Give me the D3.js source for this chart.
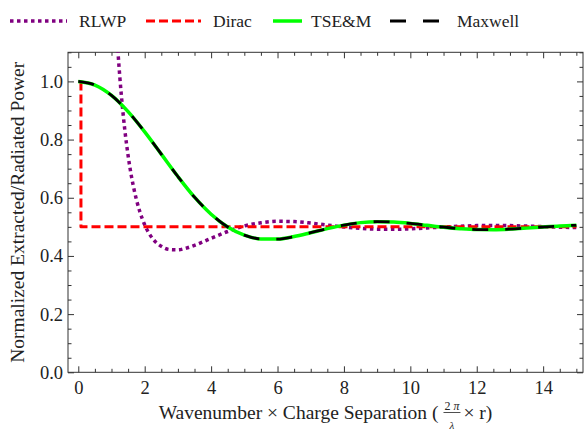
<!DOCTYPE html>
<html>
<head>
<meta charset="utf-8">
<script src="https://cdn.jsdelivr.net/npm/d3@7"></script>
<style>
  body { margin: 0; background: #fff; }
  svg, svg text { font-family: 'Liberation Serif', 'Times New Roman', serif; }
  svg { display: block; }
  .tick line { stroke: #333; }
  .tick text { fill: #222; }
</style>
</head>
<body>
<div id="chart"></div>
<script>
// values
const maxwellX = [0, 0.5, 1, 1.5, 2, 2.5, 3, 3.5, 4, 4.5, 5, 5.5, 6, 6.5, 7, 7.5, 8, 8.5, 9, 9.5, 10, 10.5, 11, 11.5, 12, 12.5, 13, 13.5, 14, 14.5, 15]
const maxwellY = [1.0, 0.9875, 0.952, 0.896, 0.8265, 0.750, 0.673, 0.602, 0.5435, 0.4995, 0.4715, 0.4585, 0.458, 0.4665, 0.4798, 0.494, 0.506, 0.5145, 0.5177, 0.5164, 0.5118, 0.5053, 0.4988, 0.4937, 0.4907, 0.4904, 0.4922, 0.4956, 0.4995, 0.503, 0.5054]
const tsemX = [0, 0.5, 1, 1.5, 2, 2.5, 3, 3.5, 4, 4.5, 5, 5.5, 6, 6.5, 7, 7.5, 8, 8.5, 9, 9.5, 10, 10.5, 11, 11.5, 12, 12.5, 13, 13.5, 14, 14.5, 15]
const tsemY = [1.0, 0.9875, 0.952, 0.896, 0.8265, 0.750, 0.673, 0.602, 0.5435, 0.4995, 0.4715, 0.4585, 0.458, 0.4665, 0.4798, 0.494, 0.506, 0.5145, 0.5177, 0.5164, 0.5118, 0.5053, 0.4988, 0.4937, 0.4907, 0.4904, 0.4922, 0.4956, 0.4995, 0.503, 0.5054]
const rlwpX = [1.15, 1.2, 1.25, 1.3, 1.35, 1.4, 1.45, 1.5, 1.6, 1.7, 1.75, 1.85, 2, 2.25, 2.5, 2.75, 3, 3.25, 3.5, 3.75, 4, 4.5, 5, 5.5, 6, 6.5, 7, 7.5, 8, 8.5, 9, 9.5, 10, 10.5, 11, 11.5, 12, 12.5, 13, 13.5, 14, 14.5, 15]
const rlwpY = [1.182, 1.093, 1.016, 0.948, 0.888, 0.834, 0.787, 0.745, 0.674, 0.618, 0.594, 0.5535, 0.507, 0.458, 0.433, 0.422, 0.421, 0.427, 0.4365, 0.448, 0.4605, 0.484, 0.503, 0.514, 0.519, 0.518, 0.513, 0.506, 0.4997, 0.4947, 0.492, 0.4916, 0.4933, 0.4962, 0.4995, 0.5023, 0.5042, 0.5048, 0.5042, 0.5027, 0.5008, 0.499, 0.4976]
const diracX = [0.08, 0.08, 15]
const diracY = [1.0, 0.5, 0.5]

const seriesNames = ['RLWP', 'Dirac', 'TSE&M', 'Maxwell']
const seriesColors = ['#800080', '#ff0000', '#00ff00', '#000000']
const seriesDash = ['3.5,3.5', '9,4', null, '16,17']
const seriesWidth = [3.5, 3, 3.5, 2.8]

const xMajor = [0, 2, 4, 6, 8, 10, 12, 14]
const yMajor = [0, 0.2, 0.4, 0.6, 0.8, 1.0]

const xLabel = 'Wavenumber × Charge Separation ('
const xLabelEnd = ' × r)'
const yLabel = 'Normalized Extracted/Radiated Power'

const width = 584
const height = 431
const margin = { top: 52.3, right: 1, bottom: 58.7, left: 68 }
const FONT = 18.5
const SERIF = "'Liberation Serif', 'Times New Roman', serif"

const scaleX = d3.scaleLinear().domain([-0.31, 15.2]).range([margin.left, width - margin.right])
const scaleY = d3.scaleLinear().domain([0, 1.1]).range([height - margin.bottom, margin.top])

const svg = d3.select('#chart').append('svg')
	.attr('width', width)
	.attr('height', height)
	.attr('font-family', SERIF)

svg.append('defs').append('clipPath')
	.attr('id', 'plot-clip')
	.append('rect')
	.attr('x', margin.left)
	.attr('y', margin.top)
	.attr('width', scaleX.range()[1] - margin.left)
	.attr('height', scaleY.range()[0] - margin.top)

// ticks, all pointing inward
const xMinor = d3.range(0, 15.01, 0.5).filter(d => !xMajor.includes(d))
const yMinor = d3.range(0, 1.101, 0.05).map(d => +d.toFixed(2)).filter(d => !yMajor.some(m => Math.abs(m - d) < 1e-6))

function axisGroup(axis, tr) {
	const g = svg.append('g').attr('transform', tr).call(axis)
	g.attr('font-family', SERIF).attr('font-size', FONT)
	g.select('.domain').remove()
	return g
}

const bottomY = scaleY(0)
const topY = scaleY(1.1)
const leftX = scaleX.range()[0]
const rightX = scaleX.range()[1]

axisGroup(d3.axisBottom(scaleX).tickValues(xMajor).tickSize(-6).tickPadding(9).tickFormat(d3.format('d')), `translate(0,${bottomY})`)
axisGroup(d3.axisBottom(scaleX).tickValues(xMinor).tickSize(-3.5).tickFormat(''), `translate(0,${bottomY})`)
axisGroup(d3.axisTop(scaleX).tickValues(xMajor).tickSize(-6).tickFormat(''), `translate(0,${topY})`)
axisGroup(d3.axisTop(scaleX).tickValues(xMinor).tickSize(-3.5).tickFormat(''), `translate(0,${topY})`)

axisGroup(d3.axisLeft(scaleY).tickValues(yMajor).tickSize(-6).tickPadding(5).tickFormat(d3.format('.1f')), `translate(${leftX},0)`)
axisGroup(d3.axisLeft(scaleY).tickValues(yMinor).tickSize(-3.5).tickFormat(''), `translate(${leftX},0)`)
axisGroup(d3.axisRight(scaleY).tickValues(yMajor).tickSize(-6).tickFormat(''), `translate(${rightX},0)`)
axisGroup(d3.axisRight(scaleY).tickValues(yMinor).tickSize(-3.5).tickFormat(''), `translate(${rightX},0)`)

svg.append('rect')
	.attr('x', leftX)
	.attr('y', topY)
	.attr('width', rightX - leftX)
	.attr('height', bottomY - topY)
	.attr('fill', 'none')
	.attr('stroke', '#333')
	.attr('stroke-width', 1)

// curves
const line = d3.line()
	.x(d => scaleX(d[0]))
	.y(d => scaleY(d[1]))
	.curve(d3.curveMonotoneX)

const straight = d3.line()
	.x(d => scaleX(d[0]))
	.y(d => scaleY(d[1]))

const series = [
	d3.zip(rlwpX, rlwpY),
	d3.zip(diracX, diracY),
	d3.zip(tsemX, tsemY),
	d3.zip(maxwellX, maxwellY)
]

const plot = svg.append('g').attr('clip-path', 'url(#plot-clip)')

series.forEach((pts, i) => {
	plot.append('path')
		.datum(pts)
		.attr('d', i === 1 ? straight(pts) : line(pts))
		.attr('fill', 'none')
		.attr('stroke', seriesColors[i])
		.attr('stroke-width', seriesWidth[i])
		.attr('stroke-dasharray', seriesDash[i])
		.attr('stroke-linejoin', 'round')
})

// legend
const legendLines = [[10, 67], [146, 201], [273, 302], [390, 440]]
const legendText = [79, 213, 311, 457]
const legendY = 21

const legend = svg.append('g').attr('class', 'legend')
seriesNames.forEach((name, i) => {
	legend.append('line')
		.attr('x1', legendLines[i][0])
		.attr('x2', legendLines[i][1])
		.attr('y1', legendY)
		.attr('y2', legendY)
		.attr('stroke', seriesColors[i])
		.attr('stroke-width', seriesWidth[i])
		.attr('stroke-dasharray', seriesDash[i])
	legend.append('text')
		.attr('x', legendText[i])
		.attr('y', legendY + 6.3)
		.attr('font-family', SERIF)
		.attr('font-size', 17.5)
		.attr('fill', '#222')
		.text(name)
})

// y title
svg.append('text')
	.attr('transform', `translate(24,${(topY + bottomY) / 2}) rotate(-90)`)
	.attr('text-anchor', 'middle')
	.attr('font-family', SERIF)
	.attr('font-size', 19.5)
	.attr('fill', '#222')
	.text(yLabel)

// x title with a small fraction 2π/λ
const titleSize = 19.5
const titleY = 418.5
const xt = svg.append('g').attr('class', 'x-title').attr('fill', '#222').attr('font-family', SERIF)
const part1 = xt.append('text').attr('y', titleY).attr('font-size', titleSize).text(xLabel)
const w1 = part1.node().getComputedTextLength()
const frac = xt.append('g')
const num = frac.append('text').attr('y', titleY - 9).attr('text-anchor', 'middle').attr('font-size', 12)
num.append('tspan').text('2')
num.append('tspan').attr('font-style', 'italic').text(' π')
frac.append('text').attr('y', titleY + 10).attr('text-anchor', 'middle').attr('font-size', 11)
	.attr('font-style', 'italic').text('λ')
const fracW = 25
const part2 = xt.append('text').attr('y', titleY).attr('font-size', titleSize).text(xLabelEnd)
const w2 = part2.node().getComputedTextLength()
const total = w1 + fracW + w2
const startX = (leftX + rightX) / 2 - total / 2
part1.attr('x', startX)
frac.selectAll('text').attr('x', startX + w1 + fracW / 2 + 1)
frac.append('line')
	.attr('x1', startX + w1 + 5).attr('x2', startX + w1 + fracW - 3)
	.attr('y1', titleY - 6).attr('y2', titleY - 6)
	.attr('stroke', '#222').attr('stroke-width', 0.8)
part2.attr('x', startX + w1 + fracW)
</script>
</body>
</html>
